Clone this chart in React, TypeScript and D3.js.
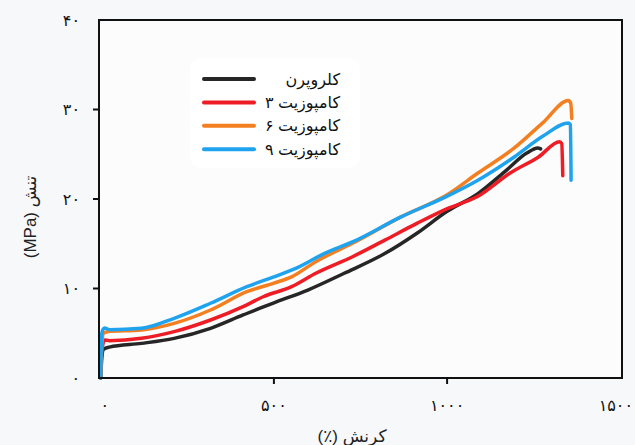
import React from "react";
import * as d3 from "d3";

const seriesNames = ["کلروپرن", "کامپوزیت ۳", "کامپوزیت ۶", "کامپوزیت ۹"];
const seriesColors = ["#262626", "#ee1c24", "#f47f20", "#1fa3ee"];

const chloroprene: [number, number][] = [
  [0, 0], [3, 2.2], [8, 3.2], [25, 3.45], [118, 3.87], [212, 4.43], [317, 5.55],
  [411, 7.04], [460, 7.8], [500, 8.4], [598, 9.83], [703, 11.7], [820, 13.9],
  [914, 16.2], [999, 18.6], [1089, 20.6], [1171, 23.2], [1229, 25.1], [1262, 25.7], [1270, 25.6],
];
const composite3: [number, number][] = [
  [0, 0], [3, 3.0], [11, 4.25], [25, 4.17], [118, 4.43], [212, 5.18], [317, 6.48],
  [411, 7.97], [469, 9.08], [551, 10.2], [621, 11.7], [727, 13.55], [820, 15.4],
  [914, 17.3], [999, 18.9], [1089, 20.3], [1182, 22.9], [1264, 24.7], [1325, 26.4], [1331, 26.2], [1334, 22.6],
];
const composite6: [number, number][] = [
  [0, 0], [3, 3.6], [8, 5.0], [19, 5.18], [118, 5.36], [212, 6.1], [317, 7.6],
  [422, 9.64], [500, 10.6], [551, 11.3], [621, 13.0], [727, 15.05], [867, 18.0],
  [999, 20.45], [1089, 22.9], [1194, 25.7], [1276, 28.5], [1350, 31.0], [1357, 30.7], [1360, 29.0],
];
const composite9: [number, number][] = [
  [0, 0], [2, 4.6], [6, 5.4], [11, 5.6], [25, 5.4], [118, 5.55], [212, 6.67], [317, 8.35],
  [422, 10.2], [500, 11.3], [563, 12.25], [645, 13.9], [727, 15.2], [867, 18.0],
  [999, 20.3], [1089, 22.1], [1194, 24.7], [1276, 27.0], [1350, 28.5], [1356, 28.3], [1358, 22.1],
];
const seriesData = [chloroprene, composite3, composite6, composite9];

const xTicks = [0, 500, 1000, 1500];
const xTickLabels = ["۰", "۵۰۰", "۱۰۰۰", "۱۵۰۰"];
const yTicks = [0, 10, 20, 30, 40];
const yTickLabels = ["۰", "۱۰", "۲۰", "۳۰", "۴۰"];
const xTitle = "کرنش (٪)";
const yTitle = "تنش (MPa)";

const W = 635;
const H = 445;
const left = 99, right = 622, top = 20, bottom = 378;

export default function App() {
  const x = d3.scaleLinear().domain([-5, 1505]).range([left, right]);
  const y = d3.scaleLinear().domain([0, 40]).range([bottom, top]);
  const line = d3
    .line<[number, number]>()
    .x((d) => x(d[0]))
    .y((d) => y(d[1]))
    .curve(d3.curveMonotoneX);
  const font = "'Liberation Sans', 'DejaVu Sans', sans-serif";

  return (
    <svg
      width={W}
      height={H}
      style={{ position: "absolute", left: 0, top: 0, background: "#f6f8fa" }}
      fontFamily={font}
    >
      <rect x={0} y={0} width={W} height={H} fill="#f6f8fa" />
      <rect x={left} y={top} width={right - left} height={bottom - top} fill="#fcfcfd" />
      <rect x={190} y={58} width={170} height={110} rx={12} fill="#ffffff" />

      {seriesData.map((s, i) => (
        <path
          key={i}
          d={line(s) || ""}
          fill="none"
          stroke={seriesColors[i]}
          strokeWidth={3.5}
          strokeLinejoin="round"
          strokeLinecap="round"
        />
      ))}

      <rect x={left} y={top} width={right - left} height={bottom - top} fill="none" stroke="#111" strokeWidth={2} />

      {yTicks.map((t, i) => (
        <g key={"y" + i}>
          {t > 0 && t < 40 && (
            <line x1={left - 6} x2={left} y1={y(t)} y2={y(t)} stroke="#111" strokeWidth={2} />
          )}
          <text x={80} y={y(t)} dy="0.35em" textAnchor="end" fontSize={16} fill="#111">
            {yTickLabels[i]}
          </text>
        </g>
      ))}

      {xTicks.map((t, i) => (
        <g key={"x" + i}>
          {t > 0 && t < 1500 && (
            <line x1={x(t)} x2={x(t)} y1={bottom} y2={bottom + 6} stroke="#111" strokeWidth={2} />
          )}
          <text
            x={i === 0 ? x(t) + 4 : i === xTicks.length - 1 ? 633 : x(t)}
            y={405}
            dy="0.35em"
            textAnchor={i === xTicks.length - 1 ? "end" : "middle"}
            fontSize={16}
            fill="#111"
          >
            {xTickLabels[i]}
          </text>
        </g>
      ))}

      <text x={352} y={436} dy="0.35em" textAnchor="middle" fontSize={17} fill="#222" direction="rtl">
        {xTitle}
      </text>
      <text
        transform={`translate(30,217) rotate(-90)`}
        dy="0.35em"
        textAnchor="middle"
        fontSize={17}
        fill="#222"
        direction="rtl"
      >
        {yTitle}
      </text>

      {seriesNames.map((n, i) => {
        const ly = 79 + i * 23.4;
        return (
          <g key={"l" + i}>
            <line x1={204} x2={254} y1={ly} y2={ly} stroke={seriesColors[i]} strokeWidth={4} strokeLinecap="round" />
            <text x={340} y={ly} dy="0.35em" textAnchor="end" fontSize={16} fill="#111">
              {n}
            </text>
          </g>
        );
      })}
    </svg>
  );
}
